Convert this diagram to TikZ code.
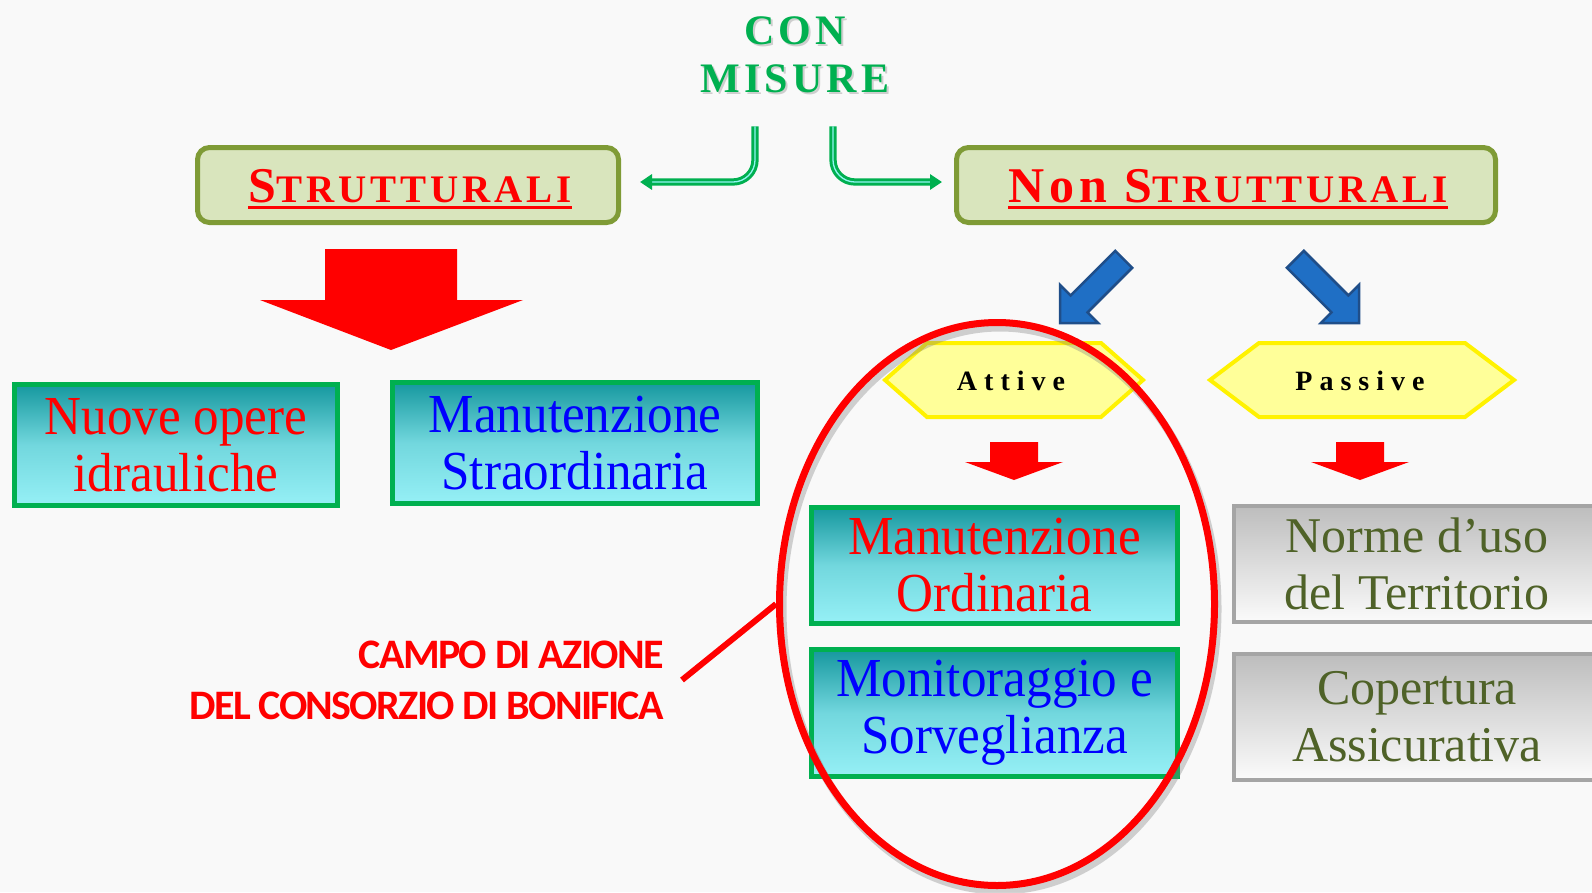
\documentclass[tikz,border=0pt]{standalone}
\usepackage{fontspec}
\setmainfont{Liberation Serif}
\newfontfamily\boxfont[FakeStretch=0.93]{Liberation Serif}
\newfontfamily\titlefont[LetterSpace=10]{Liberation Serif}
\newfontfamily\capfont[LetterSpace=10]{Liberation Serif}
\newfontfamily\hexfont[LetterSpace=25]{Liberation Serif}
\newfontfamily\calfont[LetterSpace=-4]{Carlito}
\usetikzlibrary{shapes.geometric,arrows.meta}
\definecolor{bgcol}{RGB}{249,249,249}
\definecolor{mygreen}{HTML}{00B050}
\definecolor{olivebd}{HTML}{7F9B36}
\definecolor{olivefill}{HTML}{D9E5BD}
\definecolor{tealtop}{HTML}{16989F}
\definecolor{tealbot}{HTML}{96F0F6}
\definecolor{graytop}{HTML}{BDBDBD}
\definecolor{graybot}{HTML}{FBFBFB}
\definecolor{grayborder}{HTML}{A5A5A5}
\definecolor{olivetext}{HTML}{4F6228}
\definecolor{hexfill}{HTML}{FFFF99}
\definecolor{bluefill}{HTML}{1F6FC5}
\definecolor{bluedark}{HTML}{1F4E89}
\definecolor{cyanin}{HTML}{8FF5F0}
\definecolor{pureblue}{HTML}{0000FF}
\begin{document}
\begin{tikzpicture}[x=1pt,y=-1pt,
  topbox/.style={draw=olivebd, fill=olivefill, line width=5pt, rounded corners=12pt, inner sep=0pt},
  tealbox/.style={draw=mygreen, line width=5pt, top color=tealtop, bottom color=tealbot, middle color=tealbot!72!tealtop, align=center, inner sep=0pt, font=\boxfont\fontsize{55}{57}\selectfont},
  graybox/.style={draw=grayborder, line width=4pt, top color=graytop, bottom color=graybot, align=center, inner sep=0pt, text=olivetext, font=\fontsize{50}{57}\selectfont},
  hexbox/.style={draw=yellow, fill=hexfill, line width=4pt, line join=miter},
  hextext/.style={font=\hexfont\bfseries\fontsize{28}{28}\selectfont, inner sep=0pt},
  greenarrow/.style={draw=mygreen, double=cyanin, line width=3pt, double distance=1.3pt, rounded corners=22pt, -{Triangle[length=12pt,width=15pt]}},
  bluearrow/.style={fill=bluefill, draw=bluedark, line width=2.5pt, line join=miter},
]
\clip (0,0) rectangle (1592,892);
\fill[bgcol] (0,0) rectangle (1592,892);

% title
\node[font=\titlefont\bfseries\fontsize{42}{48}\selectfont, text=gray!60, align=center, inner sep=0pt, opacity=0.6] (titleshadow) at (797,57) {CON\\MISURE};
\node[font=\titlefont\bfseries\fontsize{42}{48}\selectfont, text=mygreen, align=center, inner sep=0pt] (title) at (795,55) {CON\\MISURE};

% top boxes
\node[topbox, minimum width=421pt, minimum height=75pt] (strutt) at (408,185) {};
\node[topbox, minimum width=539pt, minimum height=75pt] (nonstrutt) at (1226,185) {};
\node[font=\capfont\bfseries, text=red, inner sep=0pt] (strtxt) at (410,186)
  {{\fontsize{50}{50}\selectfont S}{\fontsize{39}{39}\selectfont TRUTTURALI}};
\draw[red, line width=3pt] ([yshift=-4.5pt]strtxt.south west) -- ([yshift=-4.5pt]strtxt.south east);
\node[font=\capfont\bfseries, text=red, inner sep=0pt] (nontxt) at (1228,186)
  {{\fontsize{50}{50}\selectfont Non S}{\fontsize{39}{39}\selectfont TRUTTURALI}};
\draw[red, line width=3pt] ([yshift=-4.5pt]nontxt.south west) -- ([yshift=-4.5pt]nontxt.south east);

% green arrows
\draw[greenarrow] ([xshift=-40pt,yshift=-33pt]title.south) |- ([xshift=19pt,yshift=3pt]strutt.east);
\draw[greenarrow] ([xshift=38pt,yshift=-33pt]title.south) |- ([xshift=-12pt,yshift=3pt]nonstrutt.west);

% big red arrow
\fill[red] (325,249) -- (457,249) -- (457,300) -- (523,300) -- (391,350) -- (260,300) -- (325,300) -- cycle;

% left teal boxes
\node[tealbox, text=red, minimum width=323pt, minimum height=121pt] (nuove) at (176,445) {Nuove opere\\idrauliche};
\node[tealbox, text=pureblue, minimum width=365pt, minimum height=121pt] (straord) at (575,443) {Manutenzione\\Straordinaria};

% blue arrows
\begin{scope}[shift={(1060,323)}, rotate=225]
  \filldraw[bluearrow] (0,0) -- (-27,27) -- (-27,12) -- (-90,12) -- (-90,-12) -- (-27,-12) -- (-27,-27) -- cycle;
\end{scope}
\begin{scope}[shift={(1359,323)}, rotate=-45]
  \filldraw[bluearrow] (0,0) -- (-27,27) -- (-27,12) -- (-90,12) -- (-90,-12) -- (-27,-12) -- (-27,-27) -- cycle;
\end{scope}

% hexagons
\filldraw[hexbox] (885,380) -- (927,343) -- (1101,343) -- (1143,380) -- (1101,417) -- (927,417) -- cycle;
\filldraw[hexbox] (1210,380) -- (1259,343) -- (1465,343) -- (1514,380) -- (1465,417) -- (1259,417) -- cycle;
\node[hextext] (attive) at (1011,381) {Attive};
\node[hextext] (passive) at (1360,381) {Passive};

% small red arrows
\fill[red] (990,442) -- (1038,442) -- (1038,462) -- (1063,462) -- (1014,480) -- (965,462) -- (990,462) -- cycle;
\fill[red] (1336,442) -- (1384,442) -- (1384,462) -- (1409,462) -- (1360,480) -- (1311,462) -- (1336,462) -- cycle;

% right teal boxes
\node[tealbox, text=red, minimum width=366pt, minimum height=116pt] (ordin) at (994.5,565.5) {Manutenzione\\Ordinaria};
\node[tealbox, text=pureblue, minimum width=366pt, minimum height=127pt] (monit) at (994.5,713) {Monitoraggio e\\Sorveglianza};

% gray boxes
\node[graybox, minimum width=366pt, minimum height=116pt] (norme) at (1417,564) {Norme d’uso\\del Territorio};
\node[graybox, minimum width=366pt, minimum height=126pt] (copert) at (1417,717) {Copertura\\Assicurativa};

% ellipse
\draw[gray, opacity=0.35, line width=8pt] (1000,609) ellipse [x radius=217.5, y radius=281.5];
\node[ellipse, draw=red, line width=7pt, minimum width=435pt, minimum height=563pt, inner sep=0pt] (campo) at (997,604) {};

% label
\node[anchor=east, align=right, inner sep=0pt, text=red, font=\calfont\bfseries\fontsize{42}{51}\selectfont] (campotxt) at (664,680) {CAMPO DI AZIONE\\DEL CONSORZIO DI BONIFICA};
\draw[red, line width=6pt] ([xshift=18pt]campotxt.east) -- (campo.west);
\end{tikzpicture}
\end{document}
